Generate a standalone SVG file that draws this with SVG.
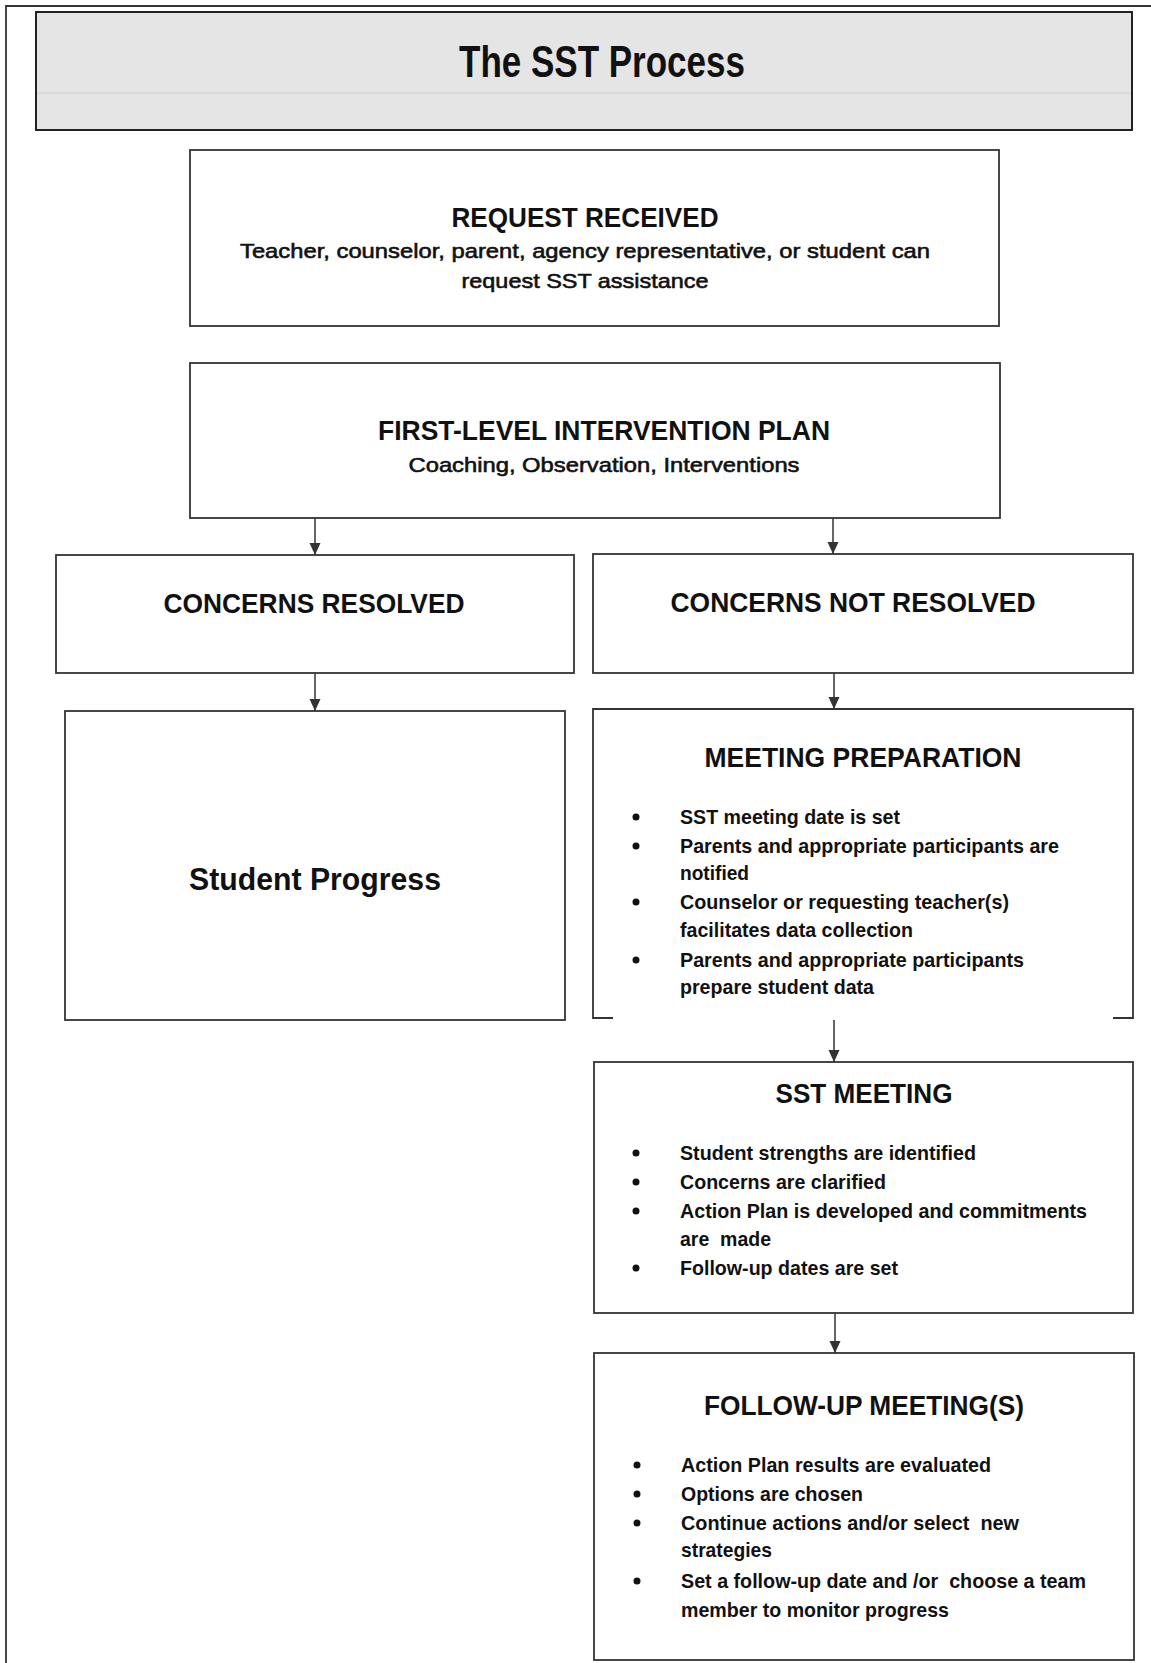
<svg xmlns="http://www.w3.org/2000/svg" width="1151" height="1663" viewBox="0 0 1151 1663">
<defs>
<style>
.box{fill:#ffffff;stroke:#333333;stroke-width:1.8}
.edge{fill:none;stroke:#333333;stroke-width:1.8}
.conn{fill:none;stroke:#333333;stroke-width:1.5}
text{font-family:"Liberation Sans",Arial,sans-serif;fill:#111111}
.title{font-size:44px;font-weight:bold;text-anchor:middle}
.head{font-size:28px;font-weight:bold;text-anchor:middle}
.sub{font-size:21px;text-anchor:middle;stroke:#111111;stroke-width:0.6}
.big{font-size:32px;font-weight:bold;text-anchor:middle}
.item{font-size:21px;font-weight:bold}
.dot{fill:#111111}
</style>
<marker id="arr" viewBox="0 0 12 12" refX="12" refY="6" markerWidth="12" markerHeight="12" markerUnits="userSpaceOnUse" orient="auto">
<path d="M0,0.5 L12,6 L0,11.5 z" fill="#333333"/>
</marker>
</defs>
<rect width="1151" height="1663" fill="#ffffff"/>
<g id="frame">
<path class="edge" d="M6,1663 L6,6 L1151,6"/>
</g>
<g id="header">
<rect x="36" y="12" width="1096" height="118" fill="#e5e5e5" stroke="#222222" stroke-width="2"/>
<line x1="37" y1="93" x2="1131" y2="93" stroke="#dadada" stroke-width="2"/>
<text class="title" x="602" y="77" textLength="286" lengthAdjust="spacingAndGlyphs">The SST Process</text>
</g>
<g id="request-received">
<rect class="box" x="190" y="150" width="809" height="176"/>
<text class="head" x="585" y="227" textLength="267" lengthAdjust="spacingAndGlyphs">REQUEST RECEIVED</text>
<text class="sub" x="585" y="258" textLength="690" lengthAdjust="spacingAndGlyphs">Teacher, counselor, parent, agency representative, or student can</text>
<text class="sub" x="585" y="288" textLength="247" lengthAdjust="spacingAndGlyphs">request SST assistance</text>
</g>
<g id="first-level">
<rect class="box" x="190" y="363" width="810" height="155"/>
<text class="head" x="604" y="440" textLength="452" lengthAdjust="spacingAndGlyphs">FIRST-LEVEL INTERVENTION PLAN</text>
<text class="sub" x="604" y="472" textLength="391" lengthAdjust="spacingAndGlyphs">Coaching, Observation, Interventions</text>
</g>
<g id="concerns-resolved">
<rect class="box" x="56" y="555" width="518" height="118"/>
<text class="head" x="314" y="613" textLength="301" lengthAdjust="spacingAndGlyphs">CONCERNS RESOLVED</text>
</g>
<g id="concerns-not-resolved">
<rect class="box" x="593" y="554" width="540" height="119"/>
<text class="head" x="853" y="612" textLength="365" lengthAdjust="spacingAndGlyphs">CONCERNS NOT RESOLVED</text>
</g>
<g id="student-progress">
<rect class="box" x="65" y="711" width="500" height="309"/>
<text class="big" x="315" y="890" textLength="252" lengthAdjust="spacingAndGlyphs">Student Progress</text>
</g>
<g id="meeting-preparation">
<path class="edge" d="M613,1018 L593,1018 L593,709 L1133,709 L1133,1018 L1113,1018"/>
<text class="head" x="863" y="767" textLength="317" lengthAdjust="spacingAndGlyphs">MEETING PREPARATION</text>
<circle class="dot" cx="636" cy="817" r="3.5"/>
<circle class="dot" cx="636" cy="846" r="3.5"/>
<circle class="dot" cx="636" cy="902" r="3.5"/>
<circle class="dot" cx="636" cy="960" r="3.5"/>
<text class="item" x="680" y="824" textLength="220" lengthAdjust="spacingAndGlyphs">SST meeting date is set</text>
<text class="item" x="680" y="853" textLength="379" lengthAdjust="spacingAndGlyphs">Parents and appropriate participants are</text>
<text class="item" x="680" y="880" textLength="69" lengthAdjust="spacingAndGlyphs">notified</text>
<text class="item" x="680" y="909" textLength="329" lengthAdjust="spacingAndGlyphs">Counselor or requesting teacher(s)</text>
<text class="item" x="680" y="937" textLength="233" lengthAdjust="spacingAndGlyphs">facilitates data collection</text>
<text class="item" x="680" y="967" textLength="344" lengthAdjust="spacingAndGlyphs">Parents and appropriate participants</text>
<text class="item" x="680" y="994" textLength="194" lengthAdjust="spacingAndGlyphs">prepare student data</text>
</g>
<g id="sst-meeting">
<rect class="box" x="594" y="1062" width="539" height="251"/>
<text class="head" x="864" y="1103" textLength="177" lengthAdjust="spacingAndGlyphs">SST MEETING</text>
<circle class="dot" cx="636" cy="1153" r="3.5"/>
<circle class="dot" cx="636" cy="1182" r="3.5"/>
<circle class="dot" cx="636" cy="1211" r="3.5"/>
<circle class="dot" cx="636" cy="1268" r="3.5"/>
<text class="item" x="680" y="1160" textLength="296" lengthAdjust="spacingAndGlyphs">Student strengths are identified</text>
<text class="item" x="680" y="1189" textLength="206" lengthAdjust="spacingAndGlyphs">Concerns are clarified</text>
<text class="item" x="680" y="1218" textLength="407" lengthAdjust="spacingAndGlyphs">Action Plan is developed and commitments</text>
<text class="item" x="680" y="1246" textLength="91" lengthAdjust="spacingAndGlyphs" xml:space="preserve">are  made</text>
<text class="item" x="680" y="1275" textLength="218" lengthAdjust="spacingAndGlyphs">Follow-up dates are set</text>
</g>
<g id="follow-up">
<rect class="box" x="594" y="1353" width="540" height="307"/>
<text class="head" x="864" y="1415" textLength="320" lengthAdjust="spacingAndGlyphs">FOLLOW-UP MEETING(S)</text>
<circle class="dot" cx="637" cy="1465" r="3.5"/>
<circle class="dot" cx="637" cy="1494" r="3.5"/>
<circle class="dot" cx="637" cy="1523" r="3.5"/>
<circle class="dot" cx="637" cy="1581" r="3.5"/>
<text class="item" x="681" y="1472" textLength="310" lengthAdjust="spacingAndGlyphs">Action Plan results are evaluated</text>
<text class="item" x="681" y="1501" textLength="182" lengthAdjust="spacingAndGlyphs">Options are chosen</text>
<text class="item" x="681" y="1530" textLength="338" lengthAdjust="spacingAndGlyphs" xml:space="preserve">Continue actions and/or select  new</text>
<text class="item" x="681" y="1557" textLength="91" lengthAdjust="spacingAndGlyphs">strategies</text>
<text class="item" x="681" y="1588" textLength="405" lengthAdjust="spacingAndGlyphs" xml:space="preserve">Set a follow-up date and /or  choose a team</text>
<text class="item" x="681" y="1617" textLength="268" lengthAdjust="spacingAndGlyphs">member to monitor progress</text>
</g>
<g id="connectors">
<line class="conn" x1="315" y1="518" x2="315" y2="555" marker-end="url(#arr)"/>
<line class="conn" x1="833" y1="518" x2="833" y2="554" marker-end="url(#arr)"/>
<line class="conn" x1="315" y1="673" x2="315" y2="711" marker-end="url(#arr)"/>
<line class="conn" x1="834" y1="673" x2="834" y2="709" marker-end="url(#arr)"/>
<line class="conn" x1="834" y1="1020" x2="834" y2="1062" marker-end="url(#arr)"/>
<line class="conn" x1="835" y1="1313" x2="835" y2="1353" marker-end="url(#arr)"/>
</g>
</svg>
